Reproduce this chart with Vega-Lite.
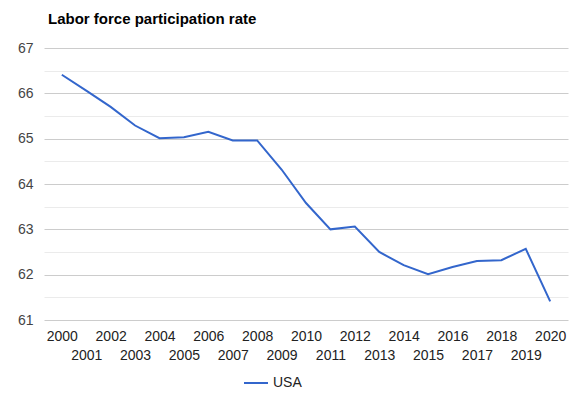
{
  "$schema": "https://vega.github.io/schema/vega-lite/v6.json",
  "width": 524,
  "height": 272,
  "autosize": {"type": "none"},
  "padding": {"left": 44, "top": 48, "right": 20, "bottom": 77},
  "background": "white",
  "title": {
    "text": "Labor force participation rate",
    "anchor": "start",
    "frame": "group",
    "font": "Liberation Sans",
    "fontSize": 15,
    "fontWeight": "bold",
    "color": "#000000",
    "offset": 14,
    "dx": 4
  },
  "config": {
    "view": {"stroke": null},
    "font": "Liberation Sans"
  },
  "data": {
    "values": [
      {"year": 2000, "rate": 66.41, "country": "USA"},
      {"year": 2001, "rate": 66.06, "country": "USA"},
      {"year": 2002, "rate": 65.70, "country": "USA"},
      {"year": 2003, "rate": 65.29, "country": "USA"},
      {"year": 2004, "rate": 65.01, "country": "USA"},
      {"year": 2005, "rate": 65.03, "country": "USA"},
      {"year": 2006, "rate": 65.15, "country": "USA"},
      {"year": 2007, "rate": 64.96, "country": "USA"},
      {"year": 2008, "rate": 64.96, "country": "USA"},
      {"year": 2009, "rate": 64.32, "country": "USA"},
      {"year": 2010, "rate": 63.58, "country": "USA"},
      {"year": 2011, "rate": 63.00, "country": "USA"},
      {"year": 2012, "rate": 63.06, "country": "USA"},
      {"year": 2013, "rate": 62.50, "country": "USA"},
      {"year": 2014, "rate": 62.21, "country": "USA"},
      {"year": 2015, "rate": 62.01, "country": "USA"},
      {"year": 2016, "rate": 62.17, "country": "USA"},
      {"year": 2017, "rate": 62.30, "country": "USA"},
      {"year": 2018, "rate": 62.32, "country": "USA"},
      {"year": 2019, "rate": 62.57, "country": "USA"},
      {"year": 2020, "rate": 61.41, "country": "USA"}
    ]
  },
  "mark": {"type": "line", "strokeWidth": 2},
  "encoding": {
    "x": {
      "field": "year",
      "type": "ordinal",
      "scale": {"type": "point", "padding": 0.73},
      "axis": {
        "title": null,
        "labelAngle": 0,
        "domain": false,
        "ticks": false,
        "grid": false,
        "labelFont": "Liberation Sans",
        "labelFontSize": 14,
        "labelColor": "#222222",
        "labelBaseline": "middle",
        "labelOverlap": false,
        "labelPadding": {"condition": {"test": "datum.value % 2 == 1", "value": 35}, "value": 16}
      }
    },
    "y": {
      "field": "rate",
      "type": "quantitative",
      "scale": {"domain": [61, 67], "zero": false, "nice": false},
      "axis": {
        "title": null,
        "values": [61, 61.5, 62, 62.5, 63, 63.5, 64, 64.5, 65, 65.5, 66, 66.5, 67],
        "labelExpr": "datum.value % 1 == 0 ? format(datum.value, 'd') : ''",
        "domain": false,
        "ticks": false,
        "grid": true,
        "gridColor": {"condition": {"test": "datum.value % 1 != 0", "value": "#ebebeb"}, "value": "#cccccc"},
        "labelFont": "Liberation Sans",
        "labelFontSize": 14,
        "labelColor": "#444444",
        "labelPadding": 11
      }
    },
    "color": {
      "field": "country",
      "type": "nominal",
      "scale": {"range": ["#3366cc"]},
      "legend": {
        "title": null,
        "orient": "none",
        "legendX": 199,
        "legendY": 322,
        "symbolType": "stroke",
        "symbolSize": 576,
        "symbolStrokeWidth": 2,
        "labelFont": "Liberation Sans",
        "labelFontSize": 14,
        "labelColor": "#222222"
      }
    }
  }
}
